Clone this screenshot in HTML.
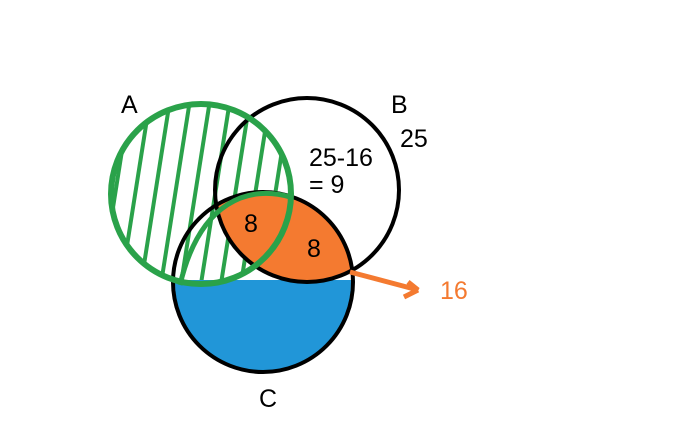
<!DOCTYPE html>
<html><head><style>body{margin:0;background:#fff}svg{display:block}</style></head><body>
<svg width="694" height="434" viewBox="0 0 694 434" xmlns="http://www.w3.org/2000/svg">
<defs>
<clipPath id="cA"><circle cx="201" cy="194" r="90"/></clipPath>
<clipPath id="cB"><circle cx="307" cy="190" r="92"/></clipPath>
<clipPath id="cC"><circle cx="263" cy="282" r="90"/></clipPath>
<clipPath id="below"><rect x="0" y="280" width="694" height="200"/></clipPath>
<clipPath id="above"><rect x="0" y="0" width="694" height="283"/></clipPath>
</defs>
<g clip-path="url(#cA)" stroke="#2aa24a" stroke-width="4">
<line x1="120" y1="290" x2="150" y2="100"/><line x1="140" y1="290" x2="170" y2="100"/>
<line x1="160" y1="290" x2="190" y2="100"/><line x1="180" y1="290" x2="210" y2="100"/>
<line x1="200" y1="290" x2="230" y2="100"/><line x1="220" y1="290" x2="250" y2="100"/>
<line x1="240" y1="290" x2="270" y2="100"/><line x1="260" y1="290" x2="290" y2="100"/>
<line x1="100" y1="290" x2="130" y2="100"/>
</g>
<g clip-path="url(#above)"><g clip-path="url(#cB)"><circle cx="263" cy="282" r="90" fill="#f47a30" clip-path="url(#cC)"/></g></g>
<g clip-path="url(#below)"><circle cx="263" cy="284" r="88" fill="#2196d8" clip-path="url(#cC)"/></g>
<circle cx="307" cy="190" r="92" fill="none" stroke="#000" stroke-width="4"/>
<circle cx="263" cy="282" r="90" fill="none" stroke="#000" stroke-width="4"/>
<circle cx="201" cy="194" r="90" fill="none" stroke="#2aa24a" stroke-width="6"/>
<path d="M180 285 C200 200 250 185 290 197" fill="none" stroke="#2aa24a" stroke-width="5"/>
<path d="M350 272 L418 290 L408 282 M418 290 L404 297" fill="none" stroke="#f47a30" stroke-width="5"/>
<g font-family="Liberation Sans, sans-serif" font-size="25" fill="#000">
<text x="121" y="113">A</text><text x="391" y="113">B</text><text x="400" y="147">25</text>
<text x="309" y="166">25-16</text><text x="309" y="193">= 9</text>
<text x="244" y="232">8</text><text x="307" y="257">8</text>
<text x="259" y="407">C</text>
<text x="440" y="299" fill="#f47a30">16</text>
</g>
</svg>
</body></html>
